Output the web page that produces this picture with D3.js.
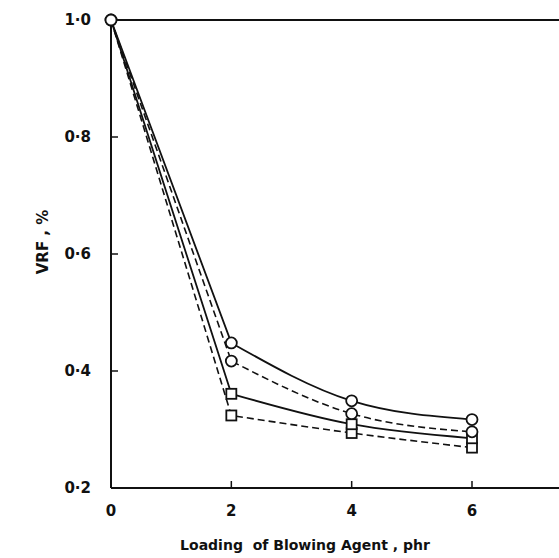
<!DOCTYPE html>
<html>
<head>
<meta charset="utf-8">
<script src="https://cdn.jsdelivr.net/npm/d3@7"></script>
<style>
  body { margin: 0; background: #fff; }
  text { font-family: "DejaVu Sans", sans-serif; font-weight: bold; fill: #111; white-space: pre; }
</style>
</head>
<body>
<div id="chart"></div>
<script>
// loading of blowing agent (phr)
var loading = [0, 2, 4, 6];

// VRF values
var solidCircle  = [1.0, 0.448, 0.349, 0.317];
var dashedCircle = [1.0, 0.417, 0.327, 0.296];
var solidSquare  = [1.0, 0.361, 0.309, 0.285];
var dashedSquare = [1.0, 0.324, 0.294, 0.269];

var xTicks = [0, 2, 4, 6];
var yTicks = [0.2, 0.4, 0.6, 0.8, 1.0];

var series = [
  {values: dashedSquare, dash: "7,4", marker: "square"},
  {values: solidSquare,  dash: null,  marker: "square"},
  {values: dashedCircle, dash: "7,4", marker: "circle"},
  {values: solidCircle,  dash: null,  marker: "circle"}
];

var width = 559, height = 558;
var plotLeft = 111, plotTop = 20, plotBottom = 488;

var x = d3.scaleLinear().domain([0, 6]).range([plotLeft, 472]);
var y = d3.scaleLinear().domain([0.2, 1.0]).range([plotBottom, plotTop]);

var svg = d3.select("#chart").append("svg")
    .attr("width", width)
    .attr("height", height);

// frame: left, bottom and top lines
svg.append("line")
    .attr("x1", plotLeft).attr("x2", plotLeft)
    .attr("y1", plotTop).attr("y2", plotBottom)
    .attr("stroke", "#111").attr("stroke-width", 2);
svg.append("line")
    .attr("x1", plotLeft).attr("x2", width)
    .attr("y1", plotBottom).attr("y2", plotBottom)
    .attr("stroke", "#111").attr("stroke-width", 2);
svg.append("line")
    .attr("x1", plotLeft).attr("x2", width)
    .attr("y1", plotTop).attr("y2", plotTop)
    .attr("stroke", "#111").attr("stroke-width", 2);

// inward ticks
svg.append("g")
  .selectAll("line")
  .data(yTicks.slice(1, 4))
  .enter().append("line")
    .attr("x1", plotLeft).attr("x2", plotLeft + 7)
    .attr("y1", function(d) { return y(d); })
    .attr("y2", function(d) { return y(d); })
    .attr("stroke", "#111").attr("stroke-width", 1.5);

svg.append("g")
  .selectAll("line")
  .data(xTicks.slice(1))
  .enter().append("line")
    .attr("x1", function(d) { return x(d); })
    .attr("x2", function(d) { return x(d); })
    .attr("y1", plotBottom).attr("y2", plotBottom - 7)
    .attr("stroke", "#111").attr("stroke-width", 1.5);

// tick labels
svg.append("g")
  .selectAll("text")
  .data(yTicks)
  .enter().append("text")
    .attr("x", 91)
    .attr("y", function(d) { return y(d); })
    .attr("dy", "0.35em")
    .attr("text-anchor", "end")
    .style("font-size", "15px")
    .text(function(d) { return d3.format(".1f")(d).replace(".", "\u00b7"); });

svg.append("g")
  .selectAll("text")
  .data(xTicks)
  .enter().append("text")
    .attr("x", function(d) { return x(d); })
    .attr("y", 516)
    .attr("text-anchor", "middle")
    .style("font-size", "15px")
    .text(function(d) { return d; });

// axis labels
svg.append("text")
    .attr("text-anchor", "middle")
    .attr("transform", "translate(" + 48 + "," + 242 + ")rotate(-90)")
    .style("font-size", "15px")
    .text("VRF , %");

svg.append("text")
    .attr("x", 305)
    .attr("y", 550)
    .attr("text-anchor", "middle")
    .style("font-size", "14px")
    .text("Loading  of Blowing Agent , phr");

// straight drop from 0 to 2, smooth curve after that
var line = d3.line()
    .x(function(d) { return x(d[0]); })
    .y(function(d) { return y(d[1]); });
var curve = d3.line()
    .x(function(d) { return x(d[0]); })
    .y(function(d) { return y(d[1]); })
    .curve(d3.curveMonotoneX);

series.forEach(function(s) {
  var pts = loading.map(function(v, i) { return [v, s.values[i]]; });
  var path = line(pts.slice(0, 2)) + curve(pts.slice(1)).replace("M", "L");
  svg.append("path")
      .attr("d", path)
      .attr("fill", "none")
      .attr("stroke", "#111")
      .attr("stroke-width", s.dash ? 1.6 : 1.8)
      .attr("stroke-dasharray", s.dash);
});

series.forEach(function(s) {
  var pts = loading.map(function(v, i) { return [v, s.values[i]]; });
  var g = svg.append("g");
  pts.forEach(function(p, i) {
    if (s.marker == "circle") {
      g.append("circle")
          .attr("cx", x(p[0])).attr("cy", y(p[1]))
          .attr("r", 5.5)
          .attr("fill", "#fff").attr("stroke", "#111").attr("stroke-width", 1.8);
    } else if (i > 0) {
      g.append("rect")
          .attr("x", x(p[0]) - 5).attr("y", y(p[1]) - 5)
          .attr("width", 10).attr("height", 10)
          .attr("fill", "#fff").attr("stroke", "#111").attr("stroke-width", 1.8);
    }
  });
});
</script>
</body>
</html>
